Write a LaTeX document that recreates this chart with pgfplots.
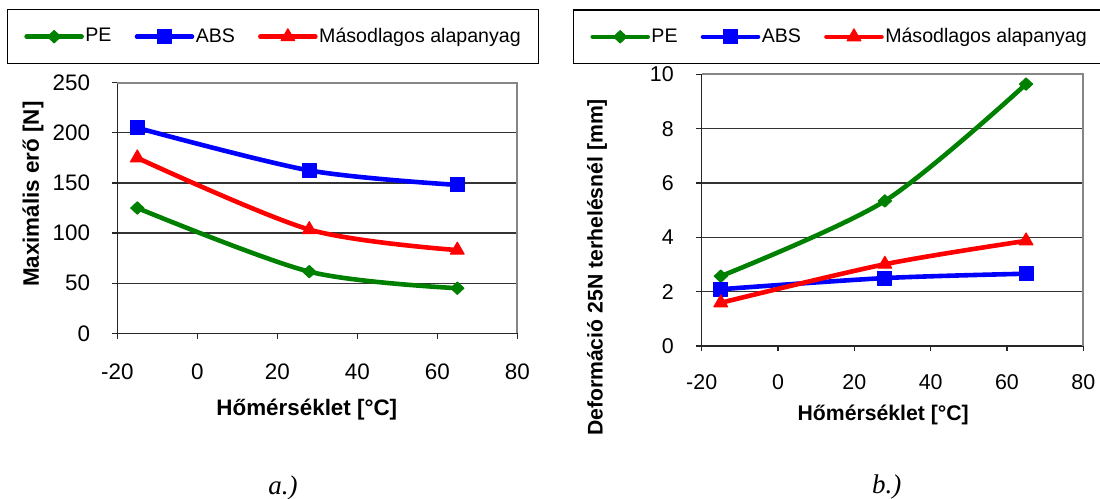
\documentclass[border=0pt]{standalone}
\usepackage{pgfplots}
\pgfplotsset{compat=1.18}
\usepackage{fontspec}
\setmainfont{Liberation Sans}
\newfontfamily\capfont{Liberation Serif}
\definecolor{xlgreen}{RGB}{0,128,0}
\definecolor{xlblue}{RGB}{0,0,255}
\definecolor{xlred}{RGB}{255,0,0}
\definecolor{xlframe}{RGB}{134,134,134}

\pgfplotsset{
  xlstyle/.style={
    scale only axis,
    axis x line*=bottom, axis y line*=left,
    axis line style={-, black!85, line width=0.6pt},
    xmin=-20, xmax=80, xtick distance=20,
    tick align=outside, major tick length=2.6pt,
    tick style={black!85, line width=0.6pt},
    ymajorgrids,
    major grid style={black!80, line width=0.6pt},
    /pgf/number format/assume math mode=true,
    legend columns=3,
    legend cell align=left,
    legend image code/.code={\draw[##1,mark repeat=2,mark phase=2] plot coordinates {(0pt,0pt) (13.75pt,0pt) (27.5pt,0pt)};},
    legend style={draw=black, line width=0.6pt, font=\fontsize{9.8}{11}\selectfont,
      anchor=center, inner xsep=8.3pt, inner ysep=8.3pt,
      nodes={inner sep=0.75pt},
      /tikz/every even column/.append style={column sep=10.8pt}},
    extra description/.code={\draw[xlframe, line width=1pt] (axis description cs:0,1) -- (axis description cs:1,1) -- (axis description cs:1,0);},
  },
  pe/.style={xlgreen, line width=2.3pt, line cap=round, line join=round, smooth, mark=diamond*,
    mark size=3.1pt, mark options={solid, line width=0.5pt, xscale=1.43}},
  abs/.style={xlblue, line width=2.3pt, line cap=round, line join=round, smooth, mark=square*,
    mark size=3.5pt, mark options={solid, line width=0.5pt}},
  mas/.style={xlred, line width=2.3pt, line cap=round, line join=round, smooth, mark=triangle*,
    mark size=4.0pt, mark options={solid, line width=0.5pt}},
}

\begin{document}
\begin{tikzpicture}
\path[use as bounding box] (0pt,0pt) rectangle (550pt,-249.5pt);

% ---------- a.) ----------
\begin{axis}[xlstyle, at={(58.65pt,-166.65pt)}, anchor=south west,
  width=200pt, height=125.3pt,
  ymin=0, ymax=250, ytick distance=50,
  ticklabel style={font=\fontsize{11.2}{13}\selectfont},
  xticklabel style={anchor=center, yshift=-16.6pt},
  yticklabel style={anchor=east, inner sep=0pt, xshift=-10.8pt},
  xlabel={Hőmérséklet [°C]}, ylabel={Maximális erő [N]},
  label style={font=\bfseries\fontsize{11.2}{13}\selectfont},
  xlabel style={at={(axis description cs:0.4738,-0.3033)}, anchor=center},
  ylabel style={at={(axis description cs:-0.211,0.555)}, anchor=center},
  legend style={at={(axis description cs:0.390,1.1836)}},
]
\addplot[pe] coordinates {(-15,125) (28,61.5) (65,45)};
\addlegendentry{PE}
\addplot[abs] coordinates {(-15,205) (28,162.5) (65,148)};
\addlegendentry{ABS}
\addplot[mas] coordinates {(-15,175) (28,103.5) (65,83)};
\addlegendentry{Másodlagos alapanyag}
\end{axis}

% ---------- b.) ----------
\begin{axis}[xlstyle, at={(350.85pt,-173pt)}, anchor=south west,
  width=190.8pt, height=135.85pt,
  ymin=0, ymax=10, ytick distance=2,
  ticklabel style={font=\fontsize{10.7}{12}\selectfont},
  xticklabel style={anchor=center, yshift=-15.25pt},
  yticklabel style={anchor=east, inner sep=0pt, xshift=-11.2pt},
  xlabel={Hőmérséklet [°C]}, ylabel={Deformáció 25N terhelésnél [mm]},
  label style={font=\bfseries\fontsize{10.6}{12}\selectfont},
  xlabel style={at={(axis description cs:0.4756,-0.254)}, anchor=center},
  ylabel style={at={(axis description cs:-0.2744,0.2889)}, anchor=center},
  legend style={at={(axis description cs:0.3608,1.138)}},
]
\addplot[pe] coordinates {(-15,2.57) (28,5.34) (65,9.64)};
\addlegendentry{PE}
\addplot[abs] coordinates {(-15,2.09) (28,2.5) (65,2.66)};
\addlegendentry{ABS}
\addplot[mas] coordinates {(-15,1.59) (28,3.01) (65,3.87)};
\addlegendentry{Másodlagos alapanyag}
\end{axis}

\node[font=\capfont\itshape\fontsize{13.5}{15}\selectfont, anchor=base] at (141.5pt,-247.2pt) {a.)};
\node[font=\capfont\itshape\fontsize{13.5}{15}\selectfont, anchor=base] at (443.35pt,-246.8pt) {b.)};
\end{tikzpicture}
\end{document}
